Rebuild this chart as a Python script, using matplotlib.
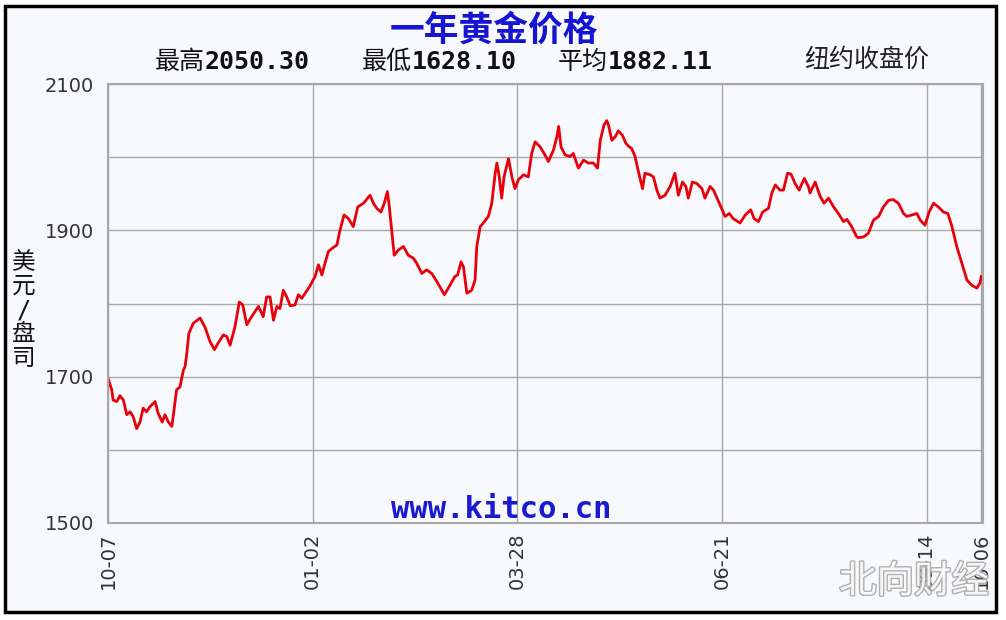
import matplotlib
matplotlib.use("Agg")
import matplotlib.pyplot as plt
import matplotlib.patheffects as pe
from matplotlib.patches import Rectangle

# 交易日序号（相对10-07）和纽约收盘价
dias = [0.0, 1.1, 1.5, 2.6, 3.5, 4.5, 5.5, 6.5, 7.4, 8.4, 9.4, 10.3, 11.3, 12.3, 13.8,
        14.7, 15.9, 16.7, 17.7, 18.7, 19.1, 20.1, 21.1, 22.1, 22.6, 23.1, 23.7, 25.0,
        27.0, 28.4, 29.9, 31.2, 32.3, 33.8, 34.8, 35.8, 37.2,
        38.5, 39.5, 40.7, 42.1, 44.1, 45.5, 46.5, 47.5, 48.5, 49.5, 50.4, 51.4, 52.4,
        53.4, 54.8, 55.8, 56.8, 57.8, 59.2, 60.7, 61.7, 62.7, 63.6, 64.6, 65.6, 67.1,
        68.0, 69.2, 70.5, 71.9, 73.2,
        74.9, 76.8, 77.8, 78.8, 80.0, 81.0, 81.9, 82.4, 83.2, 83.9, 85.1, 86.6, 88.0,
        89.5, 90.5, 92.0, 93.4, 94.9, 96.4, 98.6, 100.0, 101.7, 102.5, 103.5, 104.2,
        105.2, 106.6, 107.6, 108.1, 109.1,
        110.0, 111.5, 112.5, 113.5, 114.0, 114.7, 115.4, 116.1, 117.4, 118.4, 119.3,
        120.3, 121.8, 123.2, 124.2, 125.2, 126.7, 128.1, 129.1, 130.6, 131.6, 132.1,
        132.8, 134.0, 135.5, 136.4, 137.9, 139.4, 140.8, 142.3, 143.5, 144.3, 145.4, 146.2,
        146.7, 147.7, 148.7, 149.6, 150.8, 151.8, 152.8, 153.5, 154.5, 155.5, 156.7,
        157.4, 158.9, 159.9, 160.9, 161.8, 163.3, 164.8, 166.2, 167.2, 168.4, 169.4,
        170.1, 171.3, 172.6, 174.1, 175.0, 176.5, 177.5, 179.4, 180.9, 182.1, 183.3,
        185.3, 186.8, 188.4, 189.4, 190.7, 191.9, 193.6, 194.6, 195.6, 197.0, 198.0,
        199.2, 200.2, 201.4, 202.6, 204.1, 205.3, 205.8, 207.3, 208.8, 209.9, 211.2,
        212.7, 214.1, 215.6, 216.6, 218.0, 219.5,
        220.0, 221.5, 222.9, 224.4, 225.9, 227.3, 228.8, 230.2, 231.7, 233.2, 234.2,
        235.6, 237.1, 238.1, 239.5, 240.7, 242.0, 243.4, 244.9, 246.2, 247.4, 248.8,
        250.3, 251.8, 253.2, 254.7, 255.6, 256.0]

precios = [1698, 1682, 1668, 1666, 1674, 1668, 1648, 1652, 1645, 1629, 1638, 1657, 1652, 1659, 1666,
           1650, 1638, 1648, 1638, 1632, 1645, 1682, 1686, 1709, 1714, 1732, 1759, 1773,
           1780, 1768, 1748, 1737, 1746, 1757, 1755, 1743, 1768,
           1802, 1798, 1771, 1782, 1796, 1782, 1809, 1809, 1777, 1796, 1793, 1818, 1809,
           1797, 1798, 1812, 1807, 1814, 1824, 1837, 1853, 1839, 1855, 1871, 1875, 1880,
           1900, 1921, 1916, 1905, 1932,
           1937, 1948, 1937, 1930, 1925, 1937, 1953, 1935, 1898, 1866, 1873, 1878, 1866,
           1862, 1855, 1841, 1846, 1841, 1830, 1812, 1823, 1837, 1839, 1857, 1850,
           1814, 1818, 1832, 1878, 1905,
           1910, 1919, 1937, 1978, 1992, 1973, 1944, 1973, 1998, 1973, 1957,
           1969, 1976, 1973, 2005, 2021, 2014, 2003, 1994, 2010, 2028, 2042,
           2014, 2003, 2001, 2005, 1985, 1996, 1992, 1992, 1985, 2023, 2044, 2050,
           2044, 2023, 2028, 2036, 2030, 2019, 2014, 2012, 2001, 1980, 1957,
           1978, 1976, 1973, 1955, 1944, 1948, 1960, 1978, 1948, 1966, 1960,
           1944, 1966, 1964, 1957, 1944, 1960, 1955, 1935, 1919, 1923, 1916,
           1910, 1921, 1928, 1916, 1912, 1925, 1930, 1951, 1962, 1955, 1955,
           1978, 1977, 1964, 1955, 1971, 1960, 1951, 1966, 1946, 1937, 1944,
           1932, 1923, 1912, 1915, 1905, 1891,
           1890, 1891, 1896, 1914, 1919, 1932, 1941, 1942, 1937, 1923, 1919,
           1921, 1923, 1914, 1907, 1925, 1937, 1932, 1925, 1923, 1905, 1878,
           1855, 1832, 1825, 1821, 1828, 1837]

ticks_x = [0, 60, 120, 180, 240, 256]
etiquetas_x = ["10-07", "01-02", "03-28", "06-21", "09-14", "10-06"]
ticks_y = [1500, 1700, 1900, 2100]

titulo = "一年黄金价格"
resumen = [("最高", "2050.30"), ("最低", "1628.10"), ("平均", "1882.11")]

fondo = "#f7f9fc"
gris = "#a8a8a8"

fig = plt.figure(figsize=(10.06, 6.2), dpi=100)
fig.patch.set_facecolor("white")
fig.patches.append(Rectangle((5 / 1006, 1 - 612 / 620), 991 / 1006, 606 / 620,
                             transform=fig.transFigure, facecolor=fondo,
                             edgecolor="black", linewidth=2.5, zorder=-10))

ax = fig.add_axes([108 / 1006, 1 - 523 / 620, 875 / 1006, 439 / 620])
ax.set_zorder(1)
ax.set_facecolor(fondo)
ax.plot(dias, precios, color="#e8000b", linewidth=2.0)

ax.set_xlim(0, 256.5)
ax.set_ylim(1500, 2100)
ax.set_xticks(ticks_x)
ax.set_xticklabels(etiquetas_x, rotation=90, fontsize=14, color="#333333")
ax.set_yticks(ticks_y)
ax.set_yticks(range(1500, 2101, 100), minor=True)
ax.set_yticklabels([str(v) for v in ticks_y], fontsize=14, color="#333333")
ax.tick_params(axis="both", which="both", length=0, pad=10)
ax.tick_params(axis="x", pad=7)
ax.grid(True, which="both", color=gris, linewidth=1)
ax.set_axisbelow(True)
for s in ax.spines.values():
    s.set_color(gris)
    s.set_linewidth(1.5)

fuente_mixta = ["DejaVu Sans Mono", "Noto Sans CJK SC"]

fig.text(494 / 1006, 1 - 30 / 620, titulo, ha="center", va="center", fontsize=25,
         fontweight="heavy", color="#1414d2", family="Noto Sans CJK SC")

xs = [155, 362, 558]
for (etq, val), x0 in zip(resumen, xs):
    fig.text(x0 / 1006, 1 - 62 / 620, etq, ha="left", va="center", fontsize=18,
             color="#111111", family="Noto Sans CJK SC")
    fig.text((x0 + 50) / 1006, 1 - 62 / 620, val, ha="left", va="center", fontsize=18,
             fontweight="bold", color="#111111", family="DejaVu Sans Mono")
fig.text(867 / 1006, 1 - 60 / 620, "纽约收盘价", ha="center", va="center", fontsize=18,
         color="#222222", family="Noto Sans CJK SC")

fig.text(24 / 1006, 1 - 310 / 620, "美\n元\n/\n盘\n司", ha="center", va="center",
         fontsize=17, color="#111111", family=fuente_mixta, linespacing=1.0)

fig.text(501 / 1006, 1 - 510 / 620, "www.kitco.cn", ha="center", va="center",
         fontsize=22, fontweight="bold", color="#1a1ad0", family="DejaVu Sans Mono")

fig.text(914 / 1006, 1 - 582 / 620, "北向财经", ha="center", va="center", fontsize=27,
         color="white", family="Noto Sans CJK SC", alpha=0.9,
         path_effects=[pe.withStroke(linewidth=2, foreground="#a8a8a8")])

fig.savefig("out.png", dpi=100, facecolor=fig.get_facecolor())
